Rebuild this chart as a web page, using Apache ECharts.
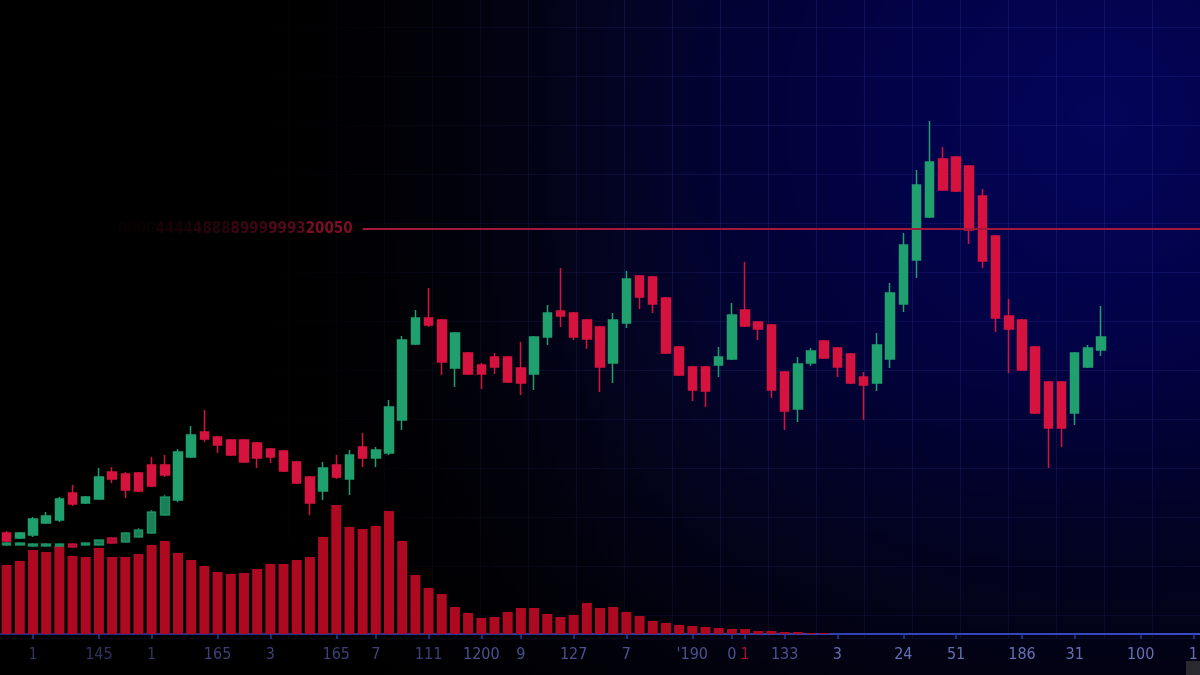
<!DOCTYPE html>
<html>
<head>
<meta charset="utf-8">
<script src="https://cdn.jsdelivr.net/npm/echarts@6/dist/echarts.min.js"></script>
<style>
html,body{margin:0;padding:0;background:#000;}
#c{width:1200px;height:675px;}
</style>
</head>
<body>
<div id="c"></div>
<script>
// ---------- data ----------
const categories = Array.from({length: 91}, (_, i) => 'T' + (i + 1));

// [open, close, low, high]
const candleMain = [
  [101,93,92,103],[96,101,95,102],[99,115,97,117],[111,118,110,122],[114,135,112,137],
  [141,130,128,149],[131,137,130,138],[135,157,134,166],[162,155,151,167],[160,144,136,162],
  [161,143,142,162],[169,148,147,177],[169,159,157,179],[134,182,132,185],[177,199,176,208],
  [202,195,192,224],[197,189,181,198],[194,179,178,195],[194,172,171,195],[191,176,166,192],
  [185,177,171,186],[183,163,162,184],[172,151,150,173],[157,131,119,158],[143,166,134,172],
  [169,157,155,179],[155,179,139,184],[187,176,167,201],[176,184,167,187],[181,227,179,234],
  [214,294,204,298],[290,316,289,324],[316,309,307,346],[314,272,259,315],[266,301,247,302],
  [281,260,259,282],[269,260,245,271],[277,267,260,281],[277,252,251,278],[266,251,239,292],
  [260,297,244,298],[297,321,289,329],[323,318,307,366],[321,297,294,322],[314,295,285,315],
  [307,267,242,308],[271,314,251,321],[311,355,306,363],[358,337,325,359],[357,330,321,358],
  [336,281,280,337],[287,259,258,288],[267,244,233,268],[267,243,227,268],[269,277,257,287],
  [275,319,274,331],[324,308,307,372],[312,305,294,313],[309,244,236,310],[262,223,204,263],
  [225,270,212,277],[271,283,268,286],[293,276,275,294],[286,267,257,287],[280,251,250,281],
  [257,249,214,262],[251,289,243,301],[275,341,266,351],[330,389,322,401],[374,449,356,464],
  [417,472,416,513],[475,444,443,487],[477,443,442,478],[468,404,390,469],[438,373,366,445],
  [398,316,302,399],[318,305,261,335],[314,264,263,315],[287,221,220,288],[252,206,166,253],
  [252,206,187,253],[221,281,209,282],[267,286,266,289],[284,297,278,328]
];

// faint secondary candle row at the far left
const candleEcho = [
  [89,91,88,92],[89,91,88,92],[88,90,87,91],[88,90,87,91],[88,90,87,91],
  [90,87,86,91],[89,91,88,92],[89,94,88,95],[96,91,90,97],[92,101,91,102],
  [97,104,96,106],[101,122,100,124],[119,137,118,139]
];

const volumes = [
  69,73,84,82,88,78,77,86,77,77,
  80,89,93,81,74,68,62,60,61,65,
  70,70,74,77,97,129,107,105,108,123,
  93,59,46,40,27,21,16,17,22,26,
  26,20,17,19,31,26,27,22,18,13,
  11,9,8,7,6,5,5,3,3,2,
  2,1,1
];

const tickSlots = [2,7,11,16,20,25,28,32,36,39,43,47,52,55,56,59,63,68,72,77,81,86,90];
const tickTexts = ['1','145','1','165','3','165','7','111','1200','9','127','7',"'190",'0','1','133','3','24','51','186','31','100','1'];
const redTickSlot = 56;

const refLevel = 405;
const refStart = 27;
const refLabelParts = ['0000','4444','4888','8999','9993','20050'];

// ---------- chart ----------
const labelAt = {};
tickSlots.forEach((s, k) => { labelAt[s] = tickTexts[k]; });
function tone(i) {
  if (i === redTickSlot) return 'r';
  if (i < 14) return 's0';
  if (i < 34) return 's1';
  if (i < 62) return 's2';
  return 's3';
}

const UP = '#1fa06e';
const DOWN = '#d6133f';
const labelFont = "'Liberation Sans Narrow','DejaVu Sans Condensed',sans-serif";
const refAlpha = [0.07, 0.14, 0.24, 0.36, 0.52, 0.78];

const chart = echarts.init(document.getElementById('c'), null, {renderer: 'canvas'});

const refRich = {};
refAlpha.forEach((a, k) => {
  refRich['p' + k] = {color: 'rgba(160,18,46,' + a + ')', fontSize: 15, fontWeight: 'bold', fontFamily: labelFont};
});

const option = {
  animation: false,
  backgroundColor: {
    type: 'radial', x: 0.92, y: 0.18, r: 1.55,
    colorStops: [
      {offset: 0, color: '#04045a'},
      {offset: 0.2, color: '#020248'},
      {offset: 0.35, color: '#020236'},
      {offset: 0.5, color: '#040426'},
      {offset: 0.62, color: '#03031a'},
      {offset: 0.75, color: '#01010a'},
      {offset: 0.88, color: '#000000'},
      {offset: 1, color: '#000000'}
    ]
  },
  grid: [
    {left: 0, right: 0, top: 0, bottom: 41, outerBoundsMode: 'none', containLabel: false},
    {left: 0, right: 0, top: -22, bottom: 37, outerBoundsMode: 'none', containLabel: false}
  ],
  xAxis: [
    {
      type: 'category', gridIndex: 0, data: categories, boundaryGap: true,
      offset: 4, z: 2,
      axisLine: {show: true, lineStyle: {width: 2, color: {
        type: 'linear', x: 0, y: 0, x2: 1, y2: 0,
        colorStops: [{offset: 0, color: '#1d2a86'}, {offset: 1, color: '#3a4ac8'}]
      }}},
      axisTick: {show: true, alignWithLabel: true, length: 5,
        interval: (i) => labelAt[i] !== undefined,
        lineStyle: {color: '#2c3aa0', width: 1.5}},
      axisLabel: {
        show: true, interval: 0, margin: 9,
        formatter: (v, i) => labelAt[i] !== undefined ? '{' + tone(i) + '|' + labelAt[i] + '}' : '',
        rich: {
          s0: {color: '#2e3462', fontSize: 16, fontFamily: labelFont},
          s1: {color: '#3a4176', fontSize: 16, fontFamily: labelFont},
          s2: {color: '#4a5290', fontSize: 16, fontFamily: labelFont},
          s3: {color: '#6470b2', fontSize: 16, fontFamily: labelFont},
          r: {color: '#a0102c', fontSize: 16, fontFamily: labelFont}
        }
      },
      splitLine: {show: false}
    },
    {
      type: 'value', gridIndex: 1, min: 0, max: 1200, interval: 48, z: 0,
      axisLine: {show: false}, axisTick: {show: false}, axisLabel: {show: false},
      splitLine: {show: true, lineStyle: {color: 'rgba(70,80,200,0.2)', width: 1}}
    }
  ],
  yAxis: [
    {type: 'value', gridIndex: 0, min: 0, max: 634, show: false, splitLine: {show: false}},
    {type: 'value', gridIndex: 0, min: 0, max: 634, show: false, splitLine: {show: false}},
    {
      type: 'value', gridIndex: 1, min: 0, max: 660, interval: 49, inverse: true, z: 0,
      axisLine: {show: false}, axisTick: {show: false}, axisLabel: {show: false},
      splitLine: {show: true, lineStyle: {color: 'rgba(70,80,200,0.16)', width: 1}}
    }
  ],
  graphic: [
    {
      type: 'rect', z: 1, silent: true,
      shape: {x: 0, y: 0, width: 720, height: 636},
      style: {fill: {
        type: 'linear', x: 0, y: 0, x2: 1, y2: 0,
        colorStops: [
          {offset: 0, color: 'rgba(0,0,0,1)'},
          {offset: 0.35, color: 'rgba(0,0,0,0.97)'},
          {offset: 0.6, color: 'rgba(0,0,0,0.6)'},
          {offset: 0.85, color: 'rgba(0,0,0,0.15)'},
          {offset: 1, color: 'rgba(0,0,0,0)'}
        ]
      }}
    },
    {
      type: 'rect', z: 1, silent: true,
      shape: {x: 0, y: 360, width: 1200, height: 315},
      style: {fill: {
        type: 'linear', x: 0, y: 0, x2: 0, y2: 1,
        colorStops: [
          {offset: 0, color: 'rgba(0,0,0,0)'},
          {offset: 1, color: 'rgba(0,0,0,0.45)'}
        ]
      }}
    },
    {
      type: 'rect', z: 5, silent: true,
      shape: {x: 1186, y: 661, width: 14, height: 14},
      style: {fill: '#2a2a2e'}
    }
  ],
  series: [
    {
      name: 'volume', type: 'bar', xAxisIndex: 0, yAxisIndex: 1, z: 3,
      data: volumes, barWidth: 10,
      itemStyle: {color: '#ad0a22'}
    },
    {
      name: 'echo', type: 'candlestick', xAxisIndex: 0, yAxisIndex: 0, z: 3,
      data: candleEcho, barWidth: 9,
      itemStyle: {color: UP, color0: DOWN, borderColor: UP, borderColor0: DOWN, borderWidth: 1.5, opacity: 0.8}
    },
    {
      name: 'price', type: 'candlestick', xAxisIndex: 0, yAxisIndex: 0, z: 4,
      data: candleMain, barWidth: 9,
      itemStyle: {color: UP, color0: DOWN, borderColor: UP, borderColor0: DOWN, borderWidth: 1.5},
      markLine: {
        silent: true, symbol: ['none', 'none'], animation: false,
        lineStyle: {color: '#a3173a', width: 2, type: 'solid'},
        label: {
          show: true, position: 'start', distance: 10,
          formatter: () => refLabelParts.map((p, k) => '{p' + k + '|' + p + '}').join(''),
          rich: refRich
        },
        data: [[{xAxis: refStart, yAxis: refLevel}, {x: '100%', yAxis: refLevel}]]
      }
    }
  ]
};
chart.setOption(option);
</script>
</body>
</html>
